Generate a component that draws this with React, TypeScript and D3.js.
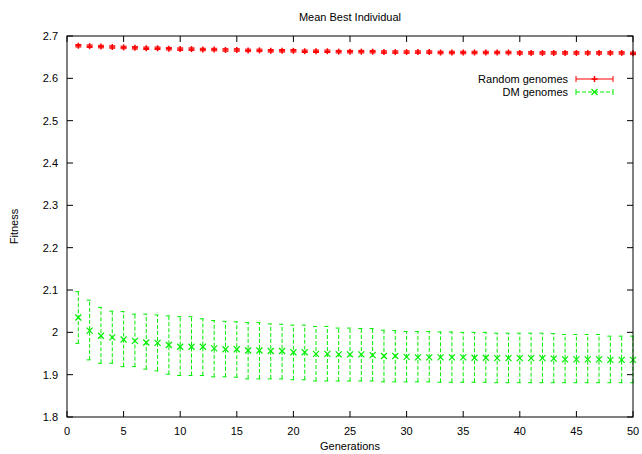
import React from 'react';
import * as d3 from 'd3';

const generations = d3.range(1, 51);

const randomMean = [
  2.677, 2.676, 2.675, 2.674, 2.673, 2.672, 2.671, 2.671, 2.670, 2.669,
  2.669, 2.668, 2.668, 2.667, 2.667, 2.666, 2.666, 2.665, 2.665, 2.665,
  2.664, 2.664, 2.664, 2.663, 2.663, 2.663, 2.663, 2.662, 2.662, 2.662,
  2.662, 2.662, 2.661, 2.661, 2.661, 2.661, 2.661, 2.661, 2.661, 2.660,
  2.660, 2.660, 2.660, 2.660, 2.660, 2.660, 2.660, 2.660, 2.660, 2.659,
];
const randomErr = 0.003;

const dmMean = [
  2.035, 2.004, 1.992, 1.988, 1.983, 1.980, 1.976, 1.975, 1.970, 1.966,
  1.966, 1.966, 1.962, 1.960, 1.960, 1.957, 1.957, 1.956, 1.956, 1.953,
  1.953, 1.949, 1.949, 1.948, 1.948, 1.948, 1.946, 1.944, 1.944, 1.942,
  1.941, 1.941, 1.941, 1.941, 1.941, 1.940, 1.940, 1.939, 1.939, 1.939,
  1.939, 1.939, 1.938, 1.936, 1.936, 1.936, 1.936, 1.935, 1.935, 1.935,
];
const dmHigh = [
  2.096, 2.076, 2.059, 2.050, 2.049, 2.043, 2.043, 2.041, 2.039, 2.037,
  2.037, 2.032, 2.028, 2.026, 2.025, 2.023, 2.023, 2.020, 2.019, 2.017,
  2.017, 2.014, 2.014, 2.010, 2.010, 2.009, 2.009, 2.005, 2.004, 2.002,
  2.002, 2.002, 2.001, 2.001, 2.000, 2.000, 2.000, 1.998, 1.998, 1.998,
  1.998, 1.998, 1.997, 1.995, 1.995, 1.995, 1.995, 1.991, 1.991, 1.991,
];
const dmLow = [
  1.974, 1.935, 1.927, 1.927, 1.919, 1.919, 1.913, 1.909, 1.901, 1.898,
  1.898, 1.898, 1.895, 1.895, 1.894, 1.890, 1.890, 1.890, 1.890, 1.888,
  1.888, 1.885, 1.885, 1.885, 1.885, 1.885, 1.885, 1.883, 1.883, 1.883,
  1.883, 1.883, 1.882, 1.882, 1.882, 1.882, 1.882, 1.881, 1.881, 1.881,
  1.881, 1.881, 1.881, 1.881, 1.881, 1.881, 1.881, 1.881, 1.881, 1.881,
];

const xTicks = [0, 5, 10, 15, 20, 25, 30, 35, 40, 45, 50];
const yTicks = [1.8, 1.9, 2.0, 2.1, 2.2, 2.3, 2.4, 2.5, 2.6, 2.7];

const W = 642;
const H = 454;
const margin = { top: 36, right: 9, bottom: 37, left: 67 };
const RED = '#ff0000';
const GREEN = '#00ee00';
const FONT = '"Liberation Sans", Arial, sans-serif';

const App = () => {
  const x = d3.scaleLinear().domain([0, 50]).range([margin.left, W - margin.right]);
  const y = d3.scaleLinear().domain([1.8, 2.7]).range([H - margin.bottom, margin.top]);
  const cap = 3;
  const tick = 6;

  const errBar = (gx: number, lo: number, hi: number, color: string, dash?: string) => (
    <g stroke={color} strokeWidth={1} strokeDasharray={dash} fill="none">
      <line x1={gx} x2={gx} y1={lo} y2={hi} />
      <line x1={gx - cap} x2={gx + cap} y1={lo} y2={lo} />
      <line x1={gx - cap} x2={gx + cap} y1={hi} y2={hi} />
    </g>
  );
  const plus = (px: number, py: number, color: string) => (
    <g stroke={color} strokeWidth={1.5}>
      <line x1={px - 3} x2={px + 3} y1={py} y2={py} />
      <line x1={px} x2={px} y1={py - 3} y2={py + 3} />
    </g>
  );
  const cross = (px: number, py: number, color: string) => (
    <g stroke={color} strokeWidth={1.2}>
      <line x1={px - 3} x2={px + 3} y1={py - 3} y2={py + 3} />
      <line x1={px - 3} x2={px + 3} y1={py + 3} y2={py - 3} />
    </g>
  );

  const [x0, x1] = x.range();
  const [yb, yt] = y.range();

  return (
    <svg width={W} height={H} style={{ position: 'absolute', left: 0, top: 0, background: '#fff' }}
      fontFamily={FONT} fontSize={11}>
      <text x={(x0 + x1) / 2} y={21} textAnchor="middle">Mean Best Individual</text>

      {/* ticks, mirrored like gnuplot */}
      <g stroke="#000" strokeWidth={1}>
        {xTicks.map(t => (
          <g key={'x' + t}>
            <line x1={x(t)} x2={x(t)} y1={yb} y2={yb - tick} />
            <line x1={x(t)} x2={x(t)} y1={yt} y2={yt + tick} />
          </g>
        ))}
        {yTicks.map(t => (
          <g key={'y' + t}>
            <line x1={x0} x2={x0 + tick} y1={y(t)} y2={y(t)} />
            <line x1={x1} x2={x1 - tick} y1={y(t)} y2={y(t)} />
          </g>
        ))}
      </g>
      {xTicks.map(t => (
        <text key={'xl' + t} x={x(t)} y={yb + 18} textAnchor="middle">{t}</text>
      ))}
      {yTicks.map(t => (
        <text key={'yl' + t} x={x0 - 9} y={y(t) + 4} textAnchor="end">{d3.format('~g')(t)}</text>
      ))}
      <text x={(x0 + x1) / 2} y={H - 4} textAnchor="middle">Generations</text>
      <text transform={`translate(18,${(yb + yt) / 2}) rotate(-90)`} textAnchor="middle">Fitness</text>

      {/* Random genomes */}
      {generations.map((g, i) => (
        <g key={'r' + g}>
          {errBar(x(g), y(randomMean[i] - randomErr), y(randomMean[i] + randomErr), RED)}
          {plus(x(g), y(randomMean[i]), RED)}
        </g>
      ))}

      {/* DM genomes */}
      {generations.map((g, i) => (
        <g key={'d' + g}>
          {errBar(x(g), y(dmLow[i]), y(dmHigh[i]), GREEN, '4,2')}
          {cross(x(g), y(dmMean[i]), GREEN)}
        </g>
      ))}

      {/* legend */}
      <text x={568} y={83} textAnchor="end">Random genomes</text>
      <text x={568} y={96} textAnchor="end">DM genomes</text>
      <g stroke={RED} strokeWidth={1}>
        <line x1={576} x2={613} y1={79} y2={79} />
        <line x1={576} x2={576} y1={76} y2={82} />
        <line x1={613} x2={613} y1={76} y2={82} />
      </g>
      {plus(594.5, 79, RED)}
      <g stroke={GREEN} strokeWidth={1} strokeDasharray="4,2">
        <line x1={576} x2={613} y1={92} y2={92} />
      </g>
      <g stroke={GREEN} strokeWidth={1}>
        <line x1={576} x2={576} y1={89} y2={95} />
        <line x1={613} x2={613} y1={89} y2={95} />
      </g>
      {cross(594.5, 92, GREEN)}

      <rect x={x0} y={yt} width={x1 - x0} height={yb - yt} fill="none" stroke="#000" strokeWidth={1} />
    </svg>
  );
};

export default App;
